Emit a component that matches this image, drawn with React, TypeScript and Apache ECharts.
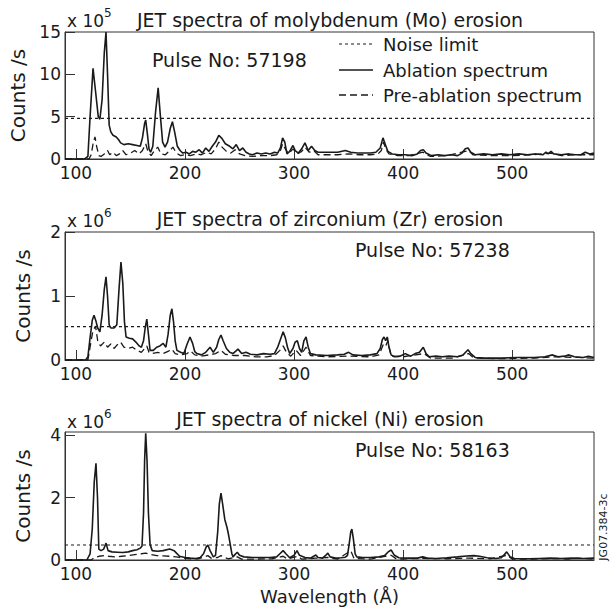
import { useEffect, useRef } from 'react';
import * as echarts from 'echarts';

// ---------- data (wavelength in Å, counts in units of the axis multiplier) ----------
const xTicks = [100, 200, 300, 400, 500];
const panelTitles = [
  'JET spectra of molybdenum (Mo) erosion',
  'JET spectra of zirconium (Zr) erosion',
  'JET spectra of nickel (Ni) erosion',
];
const pulseLabels = ['Pulse No: 57198', 'Pulse No: 57238', 'Pulse No: 58163'];
const exponents = ['5', '6', '6'];
const yMaxes = [15, 2, 4.1];
const yTickValues = [[0, 5, 10, 15], [0, 1, 2], [0, 2, 4]];
const noiseLimits = [4.8, 0.52, 0.48];
const legendLabels = ['Noise limit', 'Ablation spectrum', 'Pre-ablation spectrum'];

// Mo, x 10^5 counts/s
const moAblation: [number, number][] = [
  [90, 0], [108, 0], [111, 0.3], [113, 5], [115.7, 10.7], [118, 8], [120.5, 5], [122, 4.7], [124, 7], [126, 12.5],
  [127.6, 15], [129, 10], [130.5, 4], [132, 3.2], [134, 2.8], [137, 2.6], [139, 2.3], [141, 1.9], [144, 1.7], [148, 1.8],
  [152, 1.7], [156, 1.6], [159, 1.5], [161, 2.5], [163, 4.2], [164, 4.6], [165.5, 3], [167, 1.2], [168.5, 0.8], [170.5, 1.5],
  [173, 5.5], [175.4, 8.4], [177.5, 5], [179.5, 2], [181.7, 1.4], [184, 2], [186.5, 3.6], [188.5, 4.4], [190.5, 3.2], [193, 1.5],
  [195.5, 1.0], [198, 0.7], [201, 0.8], [204, 0.6], [207, 0.9], [210, 0.8], [213, 1.1], [216, 0.7], [219, 1.3], [222, 0.9],
  [225, 1.5], [228, 2.0], [231, 2.8], [234, 2.4], [237, 1.8], [241, 1.5], [244, 1.2], [247, 1.7], [250, 1.0], [253, 1.3],
  [256, 0.8], [259, 0.6], [262, 0.5], [266, 0.7], [270, 0.6], [274, 0.7], [278, 0.6], [282, 0.8], [285, 0.7], [287.5, 1.3],
  [289.5, 2.5], [291.5, 2.0], [293.5, 0.6], [296, 0.9], [299, 1.6], [301, 1.0], [304, 0.7], [307, 1.2], [310, 1.9], [313, 1.0],
  [316, 1.5], [319, 1.0], [322, 0.8], [327, 0.8], [333, 0.8], [340, 0.8], [347, 1.0], [352, 0.8], [358, 0.7], [364, 0.7],
  [370, 0.7], [375, 0.8], [379, 1.3], [381.5, 2.5], [384, 1.6], [386, 0.9], [390, 0.6], [396, 0.5], [402, 0.5], [408, 0.4],
  [413, 0.6], [416, 1.0], [418.5, 1.1], [421, 0.7], [426, 0.4], [432, 0.5], [438, 0.4], [444, 0.5], [450, 0.4], [454, 0.7],
  [457, 1.2], [459.5, 1.3], [462, 0.8], [466, 0.5], [474, 0.6], [482, 0.5], [490, 0.6], [498, 0.5], [506, 0.6], [514, 0.5],
  [522, 0.6], [528, 0.5], [531, 0.8], [533, 0.6], [535.6, 0.9], [538, 0.6], [545, 0.5], [552, 0.6], [558, 0.5], [563, 0.5],
  [567, 0.8], [571, 0.6], [575, 0.7],
];
const moPreAblation: [number, number][] = [
  [90, 0], [112, 0], [114, 0.5], [116, 2], [117.5, 2.6], [119, 1.5], [121, 0.4], [123, 0.3], [126, 0.6], [129, 1.0],
  [131, 0.5], [134, 0.8], [137, 0.4], [140, 0.6], [143, 1.0], [146, 0.5], [150, 0.7], [154, 1.0], [158, 0.6], [161, 1.0],
  [164, 1.8], [166, 0.9], [169, 0.4], [172, 1.0], [175, 1.4], [178, 0.6], [182, 0.5], [186, 1.0], [189, 1.4], [192, 0.7],
  [196, 0.4], [200, 0.5], [205, 0.4], [210, 0.6], [215, 0.5], [220, 0.8], [224, 0.6], [228, 1.2], [231, 2.0], [234, 1.4],
  [238, 0.9], [242, 0.7], [246, 1.1], [250, 0.6], [255, 0.4], [262, 0.3], [270, 0.4], [278, 0.4], [284, 0.5], [287.5, 1.0],
  [289.5, 1.8], [292, 1.2], [295, 0.6], [299, 1.2], [303, 0.6], [307, 0.9], [310, 1.4], [314, 0.8], [318, 1.0], [322, 0.5],
  [330, 0.5], [340, 0.5], [350, 0.6], [360, 0.5], [370, 0.5], [377, 0.6], [380, 1.0], [382, 2.0], [384, 1.2], [387, 0.6],
  [395, 0.4], [405, 0.4], [418, 0.8], [425, 0.3], [440, 0.4], [457, 0.9], [460, 1.0], [464, 0.5], [480, 0.4], [500, 0.4],
  [520, 0.5], [535, 0.7], [545, 0.4], [560, 0.5], [575, 0.5],
];

// Zr, x 10^6 counts/s
const zrAblation: [number, number][] = [
  [90, 0], [109, 0], [111, 0.05], [113, 0.35], [115, 0.62], [116.6, 0.7], [118.5, 0.6], [120, 0.5], [122, 0.44], [124, 0.7],
  [126, 1.1], [127.6, 1.3], [129, 1.0], [130.5, 0.55], [132, 0.5], [135, 0.5], [137.5, 0.55], [139.5, 1.1], [141.3, 1.53], [143, 1.2],
  [144.5, 0.6], [146, 0.36], [149, 0.34], [152, 0.33], [155, 0.28], [158, 0.22], [160, 0.2], [162, 0.3], [163.5, 0.5], [165, 0.64],
  [166.5, 0.4], [168, 0.15], [171, 0.15], [174, 0.2], [177, 0.22], [180, 0.26], [182.5, 0.2], [184.5, 0.4], [186.5, 0.7], [188, 0.8],
  [189.5, 0.6], [191, 0.3], [192.6, 0.15], [196, 0.12], [199, 0.1], [202, 0.25], [204.6, 0.36], [207, 0.26], [209, 0.13], [211, 0.1],
  [215, 0.08], [219, 0.12], [223, 0.2], [226, 0.12], [229, 0.2], [231, 0.32], [233, 0.39], [235, 0.3], [238, 0.18], [241, 0.12],
  [244, 0.1], [248.6, 0.17], [252, 0.1], [256, 0.12], [260, 0.09], [266, 0.08], [272, 0.1], [278, 0.09], [282, 0.1], [285, 0.2],
  [287.5, 0.32], [290, 0.44], [292, 0.35], [294, 0.2], [296, 0.1], [299, 0.18], [301, 0.28], [303, 0.3], [305, 0.18], [307, 0.12],
  [309, 0.3], [311, 0.36], [313, 0.2], [315, 0.1], [320, 0.08], [330, 0.07], [340, 0.08], [346, 0.09], [350, 0.12], [354, 0.08],
  [362, 0.07], [370, 0.08], [376, 0.1], [379, 0.18], [381, 0.32], [382.5, 0.36], [384, 0.3], [385.5, 0.36], [387, 0.2], [389, 0.08],
  [392, 0.05], [397, 0.06], [402, 0.1], [407, 0.06], [411, 0.1], [415, 0.12], [418.5, 0.2], [421, 0.1], [424, 0.05], [430, 0.06],
  [436, 0.05], [442, 0.06], [450, 0.05], [455, 0.08], [459.5, 0.16], [462, 0.1], [466, 0.04], [475, 0.03], [490, 0.03], [505, 0.04],
  [520, 0.04], [530, 0.05], [537, 0.08], [542, 0.05], [548, 0.06], [552, 0.08], [557, 0.05], [565, 0.04], [570, 0.06], [575, 0.04],
];
const zrPreAblation: [number, number][] = [
  [90, 0], [111, 0], [113, 0.2], [115.5, 0.45], [118, 0.53], [120, 0.3], [122.5, 0.22], [126, 0.28], [129, 0.2], [132, 0.25],
  [135, 0.18], [138, 0.24], [141, 0.28], [144, 0.2], [148, 0.18], [152, 0.2], [156, 0.15], [160, 0.12], [163, 0.18], [165, 0.22],
  [167, 0.12], [170, 0.1], [175, 0.12], [180, 0.1], [185, 0.14], [188, 0.17], [191, 0.1], [196, 0.08], [202, 0.1], [205, 0.14],
  [209, 0.08], [215, 0.06], [222, 0.08], [228, 0.1], [233, 0.15], [237, 0.09], [245, 0.07], [255, 0.07], [265, 0.05], [275, 0.05],
  [282, 0.07], [287, 0.15], [290, 0.22], [293, 0.12], [297, 0.06], [302, 0.15], [306, 0.07], [311, 0.2], [315, 0.07], [330, 0.05],
  [350, 0.06], [370, 0.05], [378, 0.08], [382, 0.25], [384, 0.22], [386, 0.3], [389, 0.06], [400, 0.05], [419, 0.1], [425, 0.03],
  [445, 0.03], [460, 0.1], [465, 0.03], [490, 0.02], [520, 0.03], [540, 0.05], [560, 0.04], [575, 0.03],
];

// Ni, x 10^6 counts/s
const niAblation: [number, number][] = [
  [90, 0], [110, 0], [113, 0.2], [115, 1.0], [116.8, 2.5], [118.4, 3.1], [119.8, 2.0], [121, 0.35], [123, 0.3], [125.5, 0.35],
  [127.6, 0.54], [129.5, 0.3], [133, 0.26], [138, 0.25], [143, 0.24], [148, 0.26], [152, 0.3], [156, 0.33], [159, 0.38], [160.6, 0.45],
  [162, 1.5], [163, 3.2], [164, 4.06], [165.2, 3.2], [166.5, 1.5], [168, 0.5], [170, 0.3], [175, 0.28], [180, 0.3], [186, 0.35],
  [190, 0.3], [195, 0.12], [200, 0.08], [205, 0.06], [210, 0.05], [214, 0.08], [217, 0.2], [219.5, 0.42], [221, 0.48], [223, 0.3],
  [226, 0.1], [228, 0.15], [230, 0.9], [231.5, 1.8], [233, 2.14], [234.5, 1.8], [236.5, 1.3], [238.5, 1.05], [240, 0.8], [241.5, 0.5],
  [243, 0.2], [244, 0.1], [246, 0.18], [248, 0.25], [250, 0.15], [254, 0.1], [262, 0.08], [270, 0.08], [278, 0.08], [284, 0.1],
  [287, 0.2], [290, 0.3], [292.5, 0.2], [296, 0.07], [300, 0.15], [302.7, 0.3], [305, 0.15], [310, 0.08], [315, 0.06], [318, 0.12],
  [320, 0.16], [322, 0.08], [326, 0.06], [329, 0.15], [331, 0.22], [333, 0.1], [338, 0.06], [343, 0.07], [347, 0.09], [349, 0.15],
  [350.5, 0.5], [352, 0.9], [353, 0.99], [354.3, 0.7], [356, 0.2], [357.5, 0.1], [363, 0.08], [370, 0.08], [378, 0.1], [383, 0.14],
  [386, 0.25], [389, 0.32], [392, 0.15], [396, 0.07], [405, 0.06], [413, 0.06], [418, 0.1], [422, 0.06], [430, 0.05], [440, 0.07],
  [450, 0.1], [458, 0.13], [465, 0.14], [470, 0.12], [477, 0.07], [485, 0.05], [490, 0.07], [493, 0.18], [495, 0.26], [498, 0.1],
  [502, 0.05], [515, 0.04], [525, 0.05], [535, 0.06], [545, 0.05], [555, 0.06], [565, 0.05], [575, 0.06],
];
const niPreAblation: [number, number][] = [
  [90, 0], [114, 0], [117, 0.08], [121, 0.12], [126, 0.14], [130, 0.12], [136, 0.1], [142, 0.12], [148, 0.14], [154, 0.17],
  [160, 0.2], [164, 0.22], [168, 0.18], [174, 0.14], [180, 0.13], [186, 0.12], [192, 0.1], [198, 0.06], [205, 0.04], [212, 0.04],
  [218, 0.1], [221, 0.14], [224, 0.06], [230, 0.08], [233, 0.14], [236, 0.08], [240, 0.04], [248, 0.1], [252, 0.03], [265, 0.03],
  [280, 0.04], [290, 0.12], [294, 0.03], [303, 0.12], [307, 0.03], [320, 0.06], [331, 0.08], [340, 0.03], [352, 0.3], [355, 0.05],
  [370, 0.03], [389, 0.15], [394, 0.03], [418, 0.05], [440, 0.04], [460, 0.06], [480, 0.04], [495, 0.15], [500, 0.03], [520, 0.03],
  [540, 0.05], [550, 0.03], [560, 0.06], [575, 0.03],
];

const ablationSets = [moAblation, zrAblation, niAblation];
const preAblationSets = [moPreAblation, zrPreAblation, niPreAblation];

// ---------- layout / style ----------
const X_MIN = 90;
const X_MAX = 575;
const FONT = 'DejaVu Sans';
const INK = '#1a1a1a';
const gridTops = [32, 232, 432];
const gridHeights = [127, 128, 128];
const GRID_LEFT = 65;
const GRID_WIDTH = 529;
const NOISE_DASH = [3, 3];
const PRE_DASH = [7, 4];
const SOLID_W = 1.6;
const DASH_W = 1.3;

export default function App() {
  const ref = useRef<HTMLDivElement>(null);

  useEffect(() => {
    document.body.style.margin = '0';
    if (!ref.current) return;
    const chart = echarts.init(ref.current, null, { renderer: 'svg' });

    const grid = gridTops.map((top, i) => ({
      left: GRID_LEFT,
      width: GRID_WIDTH,
      top,
      height: gridHeights[i],
      show: true,
      borderColor: '#333',
      borderWidth: 1,
      backgroundColor: 'transparent',
    }));

    const xAxis = gridTops.map((_, i) => ({
      type: 'value',
      gridIndex: i,
      min: X_MIN,
      max: X_MAX,
      axisLine: { show: true, onZero: false, lineStyle: { color: '#333', width: 1 } },
      axisTick: { show: true, inside: true, length: 10, customValues: xTicks, lineStyle: { color: '#333' } },
      axisLabel: { customValues: xTicks, fontSize: 17, fontFamily: FONT, color: INK, margin: 5 },
      splitLine: { show: false },
      name: i === 2 ? 'Wavelength (Å)' : '',
      nameLocation: 'middle',
      nameGap: 27,
      nameTextStyle: { fontSize: 18, fontFamily: FONT, color: INK },
    }));

    const yAxis = gridTops.map((_, i) => ({
      type: 'value',
      gridIndex: i,
      min: 0,
      max: yMaxes[i],
      axisLine: { show: true, lineStyle: { color: '#333', width: 1 } },
      axisTick: { show: true, inside: true, length: 10, customValues: yTickValues[i], lineStyle: { color: '#333' } },
      axisLabel: { customValues: yTickValues[i], fontSize: 17, fontFamily: FONT, color: INK, margin: 4 },
      splitLine: { show: false },
      name: 'Counts /s',
      nameLocation: 'middle',
      nameRotate: 90,
      nameGap: 32,
      nameTextStyle: { fontSize: 20, fontFamily: FONT, color: INK },
    }));

    const series: any[] = [];
    gridTops.forEach((_, i) => {
      series.push({
        type: 'line',
        name: legendLabels[1],
        xAxisIndex: i,
        yAxisIndex: i,
        data: ablationSets[i],
        showSymbol: false,
        lineStyle: { color: INK, width: SOLID_W },
        z: 3,
      });
      series.push({
        type: 'line',
        name: legendLabels[2],
        xAxisIndex: i,
        yAxisIndex: i,
        data: preAblationSets[i],
        showSymbol: false,
        lineStyle: { color: INK, width: DASH_W, type: PRE_DASH },
        z: 2,
      });
      series.push({
        type: 'line',
        name: legendLabels[0],
        xAxisIndex: i,
        yAxisIndex: i,
        data: [[X_MIN, noiseLimits[i]], [X_MAX, noiseLimits[i]]],
        showSymbol: false,
        lineStyle: { color: INK, width: 1.2, type: NOISE_DASH },
        z: 1,
      });
    });

    const textStyle = (extra: any) => ({ fill: INK, fontFamily: FONT, ...extra });

    const titleYs = [20, 219, 419];
    const multYs = [21, 221, 422];
    const pulseYs = [60, 250, 450];
    const pulseXs = [152, 355, 355];

    const graphic: any[] = [];
    gridTops.forEach((_, i) => {
      graphic.push({
        type: 'text',
        x: 330,
        y: titleYs[i],
        style: textStyle({ text: panelTitles[i], fontSize: 19, textAlign: 'center', textVerticalAlign: 'middle' }),
      });
      graphic.push({
        type: 'text',
        x: 67,
        y: multYs[i],
        style: textStyle({ text: 'x 10', fontSize: 17, textAlign: 'left', textVerticalAlign: 'middle' }),
      });
      graphic.push({
        type: 'text',
        x: 104,
        y: multYs[i] - 8,
        style: textStyle({ text: exponents[i], fontSize: 12, textAlign: 'left', textVerticalAlign: 'middle' }),
      });
      graphic.push({
        type: 'text',
        x: pulseXs[i],
        y: pulseYs[i],
        style: textStyle({ text: pulseLabels[i], fontSize: 19, textAlign: 'left', textVerticalAlign: 'middle' }),
      });
    });

    // legend (top panel)
    const legendYs = [44, 70, 95];
    const legendDash = [NOISE_DASH, null, PRE_DASH];
    legendYs.forEach((ly, k) => {
      graphic.push({
        type: 'line',
        shape: { x1: 339, y1: ly, x2: 373, y2: ly },
        style: { stroke: INK, lineWidth: k === 1 ? SOLID_W : k === 2 ? DASH_W : 1.2, lineDash: legendDash[k] || undefined },
      });
      graphic.push({
        type: 'text',
        x: 383,
        y: ly,
        style: textStyle({ text: legendLabels[k], fontSize: 18, textAlign: 'left', textVerticalAlign: 'middle' }),
      });
    });

    // figure code
    graphic.push({
      type: 'text',
      x: 603,
      y: 527,
      rotation: Math.PI / 2,
      style: textStyle({ text: 'JG07.384-3c', fontSize: 11, textAlign: 'center', textVerticalAlign: 'middle' }),
    });

    chart.setOption({
      animation: false,
      backgroundColor: '#ffffff',
      grid,
      xAxis,
      yAxis,
      series,
      graphic,
    } as any);

    return () => chart.dispose();
  }, []);

  return <div ref={ref} style={{ width: 612, height: 612 }} />;
}
